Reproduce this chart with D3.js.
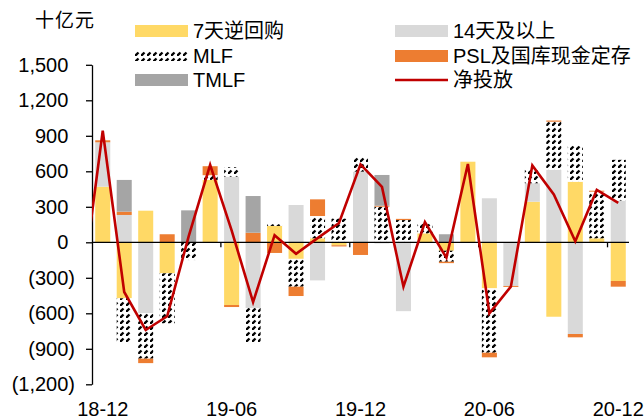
<!DOCTYPE html>
<html>
<head>
<meta charset="utf-8">
<script src="https://cdn.jsdelivr.net/npm/d3@7"></script>
<style>
  body { margin: 0; background: #fff; }
  svg text { font-family: "Liberation Sans", Arial, "Noto Sans CJK SC", sans-serif; fill: #000; }
</style>
</head>
<body>
<div id="chart"></div>
<script>
// 单位：十亿元
const months = ['18-12', '19-01', '19-02', '19-03', '19-04', '19-05', '19-06', '19-07', '19-08',
  '19-09', '19-10', '19-11', '19-12', '20-01', '20-02', '20-03', '20-04', '20-05', '20-06',
  '20-07', '20-08', '20-09', '20-10', '20-11', '20-12']
const repo7 = [470, -473, 267, -262, 0, 527, -530, 0, 138, -140, 34, -25, 0,
  0, 0, 76, -71, 681, -389, 0, 343, -629, 512, 34, -327]
const repo14 = [375, 231, -600, 0, 0, 0, 554, -555, 0, 315, -322, 0, 597,
  -10, -582, 0, 0, 0, 372, -369, 156, 611, -775, 0, 352]
const mlf = [0, -380, -383, -422, -150, 40, 80, -298, 15, -235, 188, 200, 127,
  301, 188, 95, -93, 0, -544, 0, 127, 408, 307, 394, 345]
const psl = [17, 28, -38, 68, 0, 76, -17, 81, -90, -79, 141, -10, -107,
  8, 10, 0, -12, 0, -39, -8, 0, 10, -28, 8, -48]
const tmlf = [0, 268, 0, 0, 270, 0, 0, 310, 0, 0, 0, 0, 0,
  260, 0, 0, 68, 0, 0, 0, 0, 0, 0, 0, 0]
const net = [943, -420, -741, -625, 50, 655, 100, -505, 60, -97, 35, 163, 659,
  468, -375, 170, -130, 662, -600, -375, 650, 405, 8, 442, 333]
const netPrev = -450 // 18-11，图里只露出一小段
const xTickLabels = ['18-12', '19-06', '19-12', '20-06', '20-12']
const yTicks = [-1200, -900, -600, -300, 0, 300, 600, 900, 1200, 1500]

const WIDTH = 644
const HEIGHT = 420
const X0 = 92
const X1 = 629
const Y_TOP = 64.8
const Y_BOTTOM = 384.3

const keys = ['repo7', 'repo14', 'mlf', 'psl', 'tmlf']
const color = {
  repo7: '#FFD966',
  repo14: '#D9D9D9',
  mlf: 'url(#hatch)',
  psl: '#ED7D31',
  tmlf: '#A5A5A5'
}

const rows = months.map((m, i) => ({
  month: m, repo7: repo7[i], repo14: repo14[i], mlf: mlf[i], psl: psl[i], tmlf: tmlf[i]
}))

const svg = d3.select('#chart')
  .append('svg')
  .attr('width', WIDTH)
  .attr('height', HEIGHT)

const defs = svg.append('defs')
const pat = defs.append('pattern')
  .attr('id', 'hatch')
  .attr('patternUnits', 'userSpaceOnUse')
  .attr('width', 6)
  .attr('height', 6)
pat.append('rect').attr('width', 6).attr('height', 6).attr('fill', '#fff')
pat.append('path')
  .attr('d', 'M0,6 L3.5,2.5')
  .attr('stroke', '#000')
  .attr('stroke-width', 2.3)
defs.append('clipPath').attr('id', 'plot-clip')
  .append('rect')
  .attr('x', X0).attr('y', 0)
  .attr('width', X1 - X0).attr('height', HEIGHT)

const x = d3.scaleBand()
  .domain(months)
  .range([X0, X1])
  .paddingInner(0.3)
  .paddingOuter(0.15)
const step = x.step()
const cx = m => x(m) + x.bandwidth() / 2

const y = d3.scaleLinear()
  .domain([-1200, 1500])
  .range([Y_BOTTOM, Y_TOP])

// bars
const stacked = d3.stack()
  .keys(keys)
  .offset(d3.stackOffsetDiverging)(rows)

svg.append('g')
  .selectAll('g')
  .data(stacked)
  .join('g')
  .attr('fill', d => color[d.key])
  .selectAll('rect')
  .data(d => d.filter(s => s[1] !== s[0]))
  .join('rect')
  .attr('x', d => x(d.data.month))
  .attr('width', x.bandwidth())
  .attr('y', d => y(Math.max(d[0], d[1])))
  .attr('height', d => Math.abs(y(d[0]) - y(d[1])))

// zero line + x ticks + labels
svg.append('line')
  .attr('x1', X0).attr('x2', X1)
  .attr('y1', y(0)).attr('y2', y(0))
  .attr('stroke', '#000')
  .attr('stroke-width', 1.3)

svg.append('g')
  .selectAll('line')
  .data(xTickLabels.slice(1))
  .join('line')
  .attr('x1', m => x(m) - step * 0.15).attr('x2', m => x(m) - step * 0.15)
  .attr('y1', y(0)).attr('y2', y(0) + 5)
  .attr('stroke', '#000')
  .attr('stroke-width', 1.3)

svg.append('g')
  .selectAll('text')
  .data(xTickLabels)
  .join('text')
  .attr('x', m => cx(m))
  .attr('y', 416)
  .attr('text-anchor', 'middle')
  .attr('font-size', 20)
  .text(m => m)

// y axis
const fmt = d3.format(',')
const yAxis = svg.append('g')
  .attr('transform', `translate(${X0},0)`)
  .call(d3.axisLeft(y)
    .tickValues(yTicks)
    .tickSize(6)
    .tickSizeOuter(0)
    .tickPadding(11)
    .tickFormat(v => v < 0 ? `(${fmt(-v)})` : fmt(v)))
yAxis.select('.domain').attr('stroke', '#000').attr('stroke-width', 1.3)
yAxis.selectAll('.tick line').attr('stroke', '#000').attr('stroke-width', 1.3)
yAxis.selectAll('.tick text')
  .attr('font-size', 20)
  .attr('font-family', null)
  .attr('dx', v => v < 0 ? 0 : '-0.333em')

// net line
const linePts = [[cx(months[0]) - step, netPrev]]
  .concat(months.map((m, i) => [cx(m), net[i]]))
svg.append('path')
  .datum(linePts)
  .attr('clip-path', 'url(#plot-clip)')
  .attr('fill', 'none')
  .attr('stroke', '#C00000')
  .attr('stroke-width', 2.6)
  .attr('d', d3.line().x(d => d[0]).y(d => y(d[1])))

// unit
svg.append('text')
  .attr('x', 35)
  .attr('y', 27)
  .attr('font-size', 19)
  .attr('letter-spacing', 1)
  .text('十亿元')

// legend
const legend = [
  { name: '7天逆回购', kind: 'rect', fill: color.repo7, col: 0, row: 0 },
  { name: '14天及以上', kind: 'rect', fill: color.repo14, col: 1, row: 0 },
  { name: 'MLF', kind: 'hatch', fill: color.mlf, col: 0, row: 1 },
  { name: 'PSL及国库现金定存', kind: 'rect', fill: color.psl, col: 1, row: 1 },
  { name: 'TMLF', kind: 'rect', fill: color.tmlf, col: 0, row: 2 },
  { name: '净投放', kind: 'line', fill: '#C00000', col: 1, row: 2 }
]
const colX = [135, 395]
const rowY = [31, 56, 80]
const lg = svg.append('g')
  .selectAll('g')
  .data(legend)
  .join('g')
  .attr('transform', d => `translate(${colX[d.col]},${rowY[d.row]})`)
lg.filter(d => d.kind !== 'line')
  .append('rect')
  .attr('x', 0)
  .attr('y', d => d.kind === 'hatch' ? -5 : -6)
  .attr('width', 53)
  .attr('height', d => d.kind === 'hatch' ? 10 : 12)
  .attr('fill', d => d.fill)
lg.filter(d => d.kind === 'line')
  .append('line')
  .attr('x1', 0).attr('x2', 53)
  .attr('stroke', d => d.fill)
  .attr('stroke-width', 2.6)
lg.append('text')
  .attr('x', 58)
  .attr('dy', '0.35em')
  .attr('font-size', 20)
  .text(d => d.name)
</script>
</body>
</html>
